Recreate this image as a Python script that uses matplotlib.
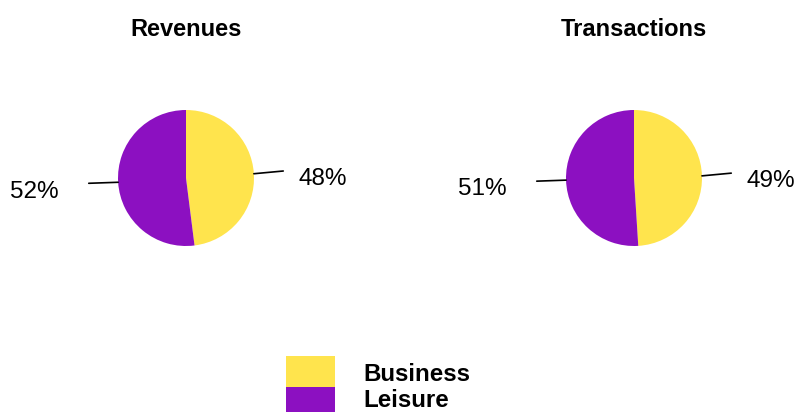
import numpy as np
import matplotlib
matplotlib.use("Agg")
import matplotlib.pyplot as plt
from matplotlib.patches import Rectangle

plt.rcParams['font.family'] = ['Liberation Sans', 'DejaVu Sans']

categories = ["Business", "Leisure"]
chart_titles = ["Revenues", "Transactions"]
revenues = [48, 52]
transactions = [49, 51]
colors = ["#FFE44D", "#8C10C1"]

W, H = 795, 412
fig = plt.figure(figsize=(W / 100, H / 100), dpi=100)

R = 68  # pie radius in pixels
centers = [(186, 178), (634, 178)]


def draw_pie(cx, cy, values, title):
    ax = fig.add_axes([(cx - R) / W, (H - cy - R) / H, 2 * R / W, 2 * R / H])
    ax.pie(values, colors=colors, startangle=90, counterclock=False, radius=1,
           wedgeprops=dict(linewidth=0))
    ax.set_xlim(-1, 1)
    ax.set_ylim(-1, 1)
    ax.set_aspect('equal')
    ax.axis('off')
    total = sum(values)
    start = 90.0
    for v in values:
        sweep = 360.0 * v / total
        mid = np.deg2rad(start - sweep / 2)
        start -= sweep
        x0, y0 = np.cos(mid), np.sin(mid)
        side = 1 if x0 > 0 else -1
        x1 = side * 1.43
        y1 = y0 + (0.04 if side > 0 else -0.015)
        ax.plot([x0, x1], [y0, y1], color='black', lw=1.2, clip_on=False,
                solid_capstyle='round')
        tx = 1.66 if side > 0 else -1.87
        ax.text(tx, y1 - 0.21, f"{v}%", fontsize=17.5,
                ha='left' if side > 0 else 'right', va='baseline',
                clip_on=False)
    fig.text(cx / W, 1 - 36.5 / H, title, fontsize=17, fontweight='bold',
             ha='center', va='baseline')


draw_pie(*centers[0], revenues, chart_titles[0])
draw_pie(*centers[1], transactions, chart_titles[1])

# legend drawn in pixel space along the bottom
lax = fig.add_axes([0, 0, 1, 1])
lax.set_xlim(0, W)
lax.set_ylim(H, 0)
lax.axis('off')
for i, (name, c) in enumerate(zip(categories, colors)):
    top = 356 + i * 31
    lax.add_patch(Rectangle((286, top), 49, 31, facecolor=c, edgecolor='none'))
    lax.text(363, 381 + i * 26, name, fontsize=17.4, fontweight='bold',
             ha='left', va='baseline', clip_on=False)

fig.savefig("out.png", dpi=100)
